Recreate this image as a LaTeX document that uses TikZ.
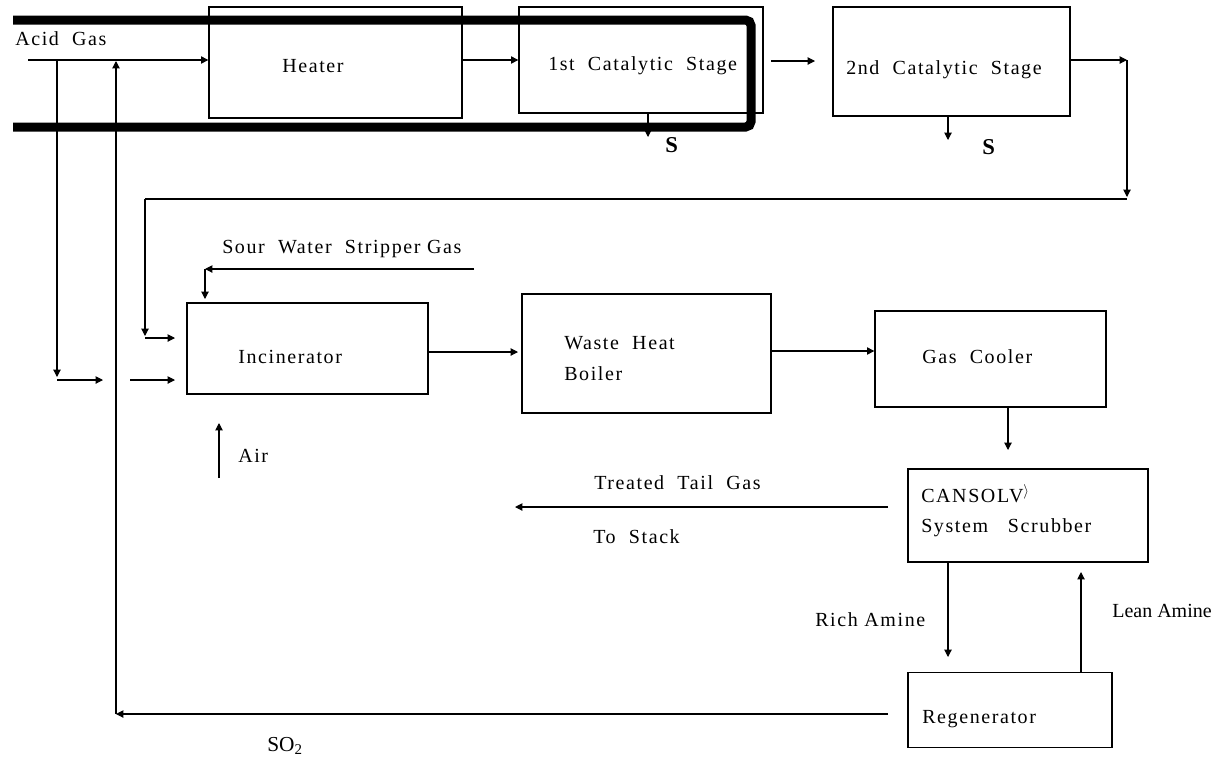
\documentclass[tikz,border=0pt]{standalone}
\usepackage{fontspec}
\setmainfont{Liberation Serif}
\usetikzlibrary{arrows.meta}
\newfontfamily\spaced[LetterSpace=8]{Liberation Serif}
\tikzset{
  box/.style={draw, line width=1pt, inner sep=0pt},
  sz/.style 2 args={minimum width=#1*0.75pt, minimum height=#2*0.75pt},
  lbl/.style={anchor=base west, inner sep=0pt, font=\fontsize{15}{18}\spaced},
  plainlbl/.style={anchor=base west, inner sep=0pt, font=\fontsize{15}{18}\selectfont},
  boldlbl/.style={anchor=base west, inner sep=0pt, font=\fontsize{17}{20}\selectfont\bfseries},
  line/.style={line width=0.8pt},
  arr/.style={line width=0.8pt, -{Triangle[length=5.5pt,width=5.5pt]}},
}
\begin{document}
\begin{tikzpicture}[x=0.75pt,y=-0.75pt]
\useasboundingbox (0,0) rectangle (1217,758);

% ---- boxes ----
\node[box, sz={253}{111}] (heater) at (335.5,62.5) {};
\node[box, sz={244}{106}] (cat1) at (641,60) {};
\node[box, sz={237}{109}] (cat2) at (951.5,61.5) {};
\node[box, sz={241}{91}] (incin) at (307.5,348.5) {};
\node[box, sz={249}{119}] (whb) at (646.5,353.5) {};
\node[box, sz={231}{96}] (cooler) at (990.5,359) {};
\node[box, sz={240}{93}] (cansolv) at (1028,515.5) {};
\node[box, sz={204}{75}] (regen) at (1010,710) {};

% ---- thick outline ----
\draw[line width=6.75pt, rounded corners=4pt] (13,20) -- (751,20) -- (751,127) -- (13,127);

% ---- texts ----
\node[lbl] (tacid) at (15,45) {Acid\ \ Gas};
\node[lbl] (theater) at (282,72) {Heater};
\node[lbl] (tcat1) at (548,70) {1st\ \ Catalytic\ \ Stage};
\node[lbl] (tcat2) at (846,74) {2nd\ \ Catalytic\ \ Stage};
\node[boldlbl] (ts1) at (665,152) {S};
\node[boldlbl] (ts2) at (982,154) {S};
\node[lbl] (tsour) at (222,253) {Sour\ \ Water\ \ Stripper Gas};
\node[lbl] (tincin) at (238,363) {Incinerator};
\node[lbl] (tair) at (238,462) {Air};
\node[lbl] (twhb1) at (564,349) {Waste\ \ Heat};
\node[lbl] (twhb2) at (564,380) {Boiler};
\node[lbl] (tcool) at (922,363) {Gas\ \ Cooler};
\node[lbl] (tcan1) at (921,502) {CANSOLV\textsuperscript{$\rangle$}};
\node[lbl] (tcan2) at (921,532) {System\ \ \ Scrubber};
\node[lbl] (ttail) at (594,489) {Treated\ \ Tail\ \ Gas};
\node[lbl] (tstack) at (593,543) {To\ \ Stack};
\node[lbl] (trich) at (815,626) {Rich\ Amine};
\node[plainlbl] (tlean) at (1112,617) {Lean Amine};
\node[lbl] (tregen) at (922,723) {Regenerator};
\node[plainlbl, font=\fontsize{16}{18}\selectfont] (tso2) at (267,751) {SO\textsubscript{2}};

% ---- coordinates ----
\coordinate (agin) at (28,60);
\coordinate (c1a) at (771,61);
\coordinate (c1b) at (815,61);
\coordinate (c2r) at (1127,60);
\coordinate (c2d) at (1127,197);
\coordinate (rtR) at (1127,199);
\coordinate (rtL) at (145,199);
\coordinate (rtD) at (145,336);
\coordinate (rtA) at (145,338);
\coordinate (rtE) at (175,338);
\coordinate (lbT) at (57,60);
\coordinate (lbD) at (57,377);
\coordinate (lbA) at (57,380);
\coordinate (lbE) at (103,380);
\coordinate (mbA) at (130,380);
\coordinate (mbE) at (175,380);
\coordinate (so2R) at (888,714);
\coordinate (so2L) at (116,714);
\coordinate (so2T) at (116,61);
\coordinate (swR) at (474,269);
\coordinate (swC) at (205,269);
\coordinate (swD) at (205,299);
\coordinate (airB) at (219,478);
\coordinate (airT) at (219,423);
\coordinate (iw) at (518,352);
\coordinate (cc) at (1008,450);
\coordinate (ttR) at (888,507);
\coordinate (ttL) at (515,507);
\coordinate (ra) at (948,657);
\coordinate (la) at (1081,572);
\coordinate (s1) at (648,137);
\coordinate (s2) at (948,140);

% ---- connectors ----
\draw[arr] (agin) -- (agin -| heater.west);
\draw[arr] (cat1.west -| heater.east) -- (cat1.west);
\draw[arr] (c1a) -- (c1b);
\draw[arr] (c2r -| cat2.east) -- (c2r);
\draw[arr] (c2r) -- (c2d);
\draw[line] (rtR) -- (rtL);
\draw[arr] (rtL) -- (rtD);
\draw[arr] (rtA) -- (rtE);
\draw[arr] (lbT) -- (lbD);
\draw[arr] (lbA) -- (lbE);
\draw[arr] (mbA) -- (mbE);
\draw[arr] (so2R) -- (so2L);
\draw[arr] (so2L) -- (so2T);
\draw[arr] (swR) -- (swC);
\draw[arr] (swC) -- (swD);
\draw[arr] (airB) -- (airT);
\draw[arr] (iw -| incin.east) -- (iw);
\draw[arr] (whb.east |- 0,351) -- (cooler.west |- 0,351);
\draw[arr] (cc |- cooler.south) -- (cc);
\draw[arr] (ttR) -- (ttL);
\draw[arr] (ra |- cansolv.south) -- (ra);
\draw[arr] (la |- regen.north) -- (la);
\draw[arr] (s1 |- cat1.south) -- (s1);
\draw[arr] (s2 |- cat2.south) -- (s2);
\end{tikzpicture}
\end{document}
